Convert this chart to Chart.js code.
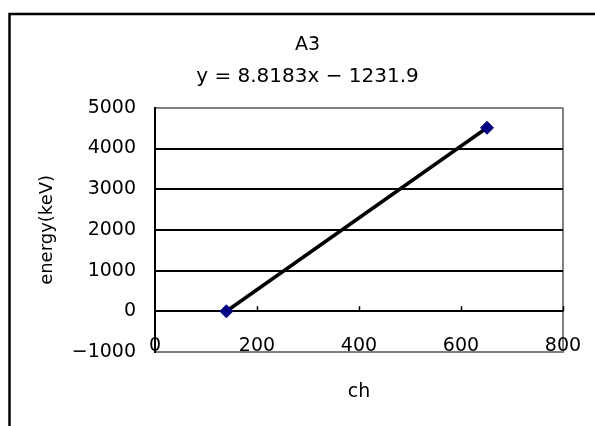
<!DOCTYPE html>
<html>
<head>
<meta charset="utf-8">
<script src="https://cdn.jsdelivr.net/npm/chart.js@4/dist/chart.umd.min.js"></script>
<style>
  html, body { margin: 0; padding: 0; background: #ffffff; }
  #wrap { width: 595px; height: 426px; position: relative; }
</style>
</head>
<body>
<div id="wrap"><canvas id="c" width="595" height="426"></canvas></div>
<script>
// ---- data ----
const chartTitle = "A3";
const equationText = "y = 8.8183x \u2212 1231.9";
const xTitle = "ch";
const yTitle = "energy(keV)";
const channels = [140, 651];
const energies = [0, 4509];
const xTicks = [0, 200, 400, 600, 800];
const yTicks = [-1000, 0, 1000, 2000, 3000, 4000, 5000];

const FONT = "'DejaVu Sans', sans-serif";
const GRAY = "#808080";

const points = channels.map((x, i) => ({ x: x, y: energies[i] }));

const fmt = v => (v < 0 ? "\u2212" + Math.abs(v) : String(v));

const decorPlugin = {
  id: "decor",
  beforeDraw(chart) {
    const ctx = chart.ctx;
    ctx.save();
    ctx.fillStyle = "#ffffff";
    ctx.fillRect(0, 0, chart.width, chart.height);
    ctx.strokeStyle = "#000000";
    ctx.lineWidth = 2.5;
    ctx.beginPath();
    ctx.moveTo(9.5, chart.height + 5);
    ctx.lineTo(9.5, 14);
    ctx.lineTo(chart.width + 5, 14);
    ctx.stroke();
    ctx.restore();
  },
  beforeDatasetsDraw(chart) {
    // small upward tick marks on the y = 0 line
    const ctx = chart.ctx;
    const xs = chart.scales.x, ys = chart.scales.y;
    const y0 = ys.getPixelForValue(0);
    ctx.save();
    ctx.strokeStyle = "#000000";
    ctx.lineWidth = 1.5;
    ctx.beginPath();
    xTicks.slice(1).forEach(v => {
      const px = Math.round(xs.getPixelForValue(v)) + 0.5;
      ctx.moveTo(px, y0);
      ctx.lineTo(px, y0 - 5);
    });
    ctx.stroke();
    ctx.restore();
  }
};

new Chart(document.getElementById("c"), {
  type: "scatter",
  data: {
    datasets: [{
      label: "A3",
      data: points,
      showLine: true,
      borderColor: "#000000",
      borderWidth: 3.5,
      pointStyle: "rectRot",
      pointRadius: 6.5,
      pointBackgroundColor: "#000080",
      pointBorderColor: "#000080",
      pointBorderWidth: 1,
      clip: false
    }]
  },
  options: {
    responsive: false,
    animation: false,
    devicePixelRatio: 1,
    layout: { padding: { left: 52, right: 32, top: 21, bottom: 0 } },
    plugins: {
      legend: { display: false },
      tooltip: { enabled: false },
      title: {
        display: true,
        text: chartTitle,
        color: "#000000",
        font: { family: FONT, size: 19, weight: "normal" },
        padding: { top: 13, bottom: 6 }
      },
      subtitle: {
        display: true,
        text: equationText,
        color: "#000000",
        font: { family: FONT, size: 20, weight: "normal" },
        padding: { top: 2, bottom: 19 }
      }
    },
    scales: {
      x: {
        type: "linear",
        position: "bottom",
        min: 0, max: 800,
        afterBuildTicks: s => { s.ticks = xTicks.map(v => ({ value: v })); },
        afterFit: s => { s.height = 74; },
        ticks: {
          color: "#000000",
          font: { family: FONT, size: 19 },
          mirror: true,
          padding: -5,
          maxRotation: 0,
          autoSkip: false,
          callback: v => fmt(v)
        },
        grid: {
          drawTicks: false,
          drawOnChartArea: true,
          color: c => (c.tick && c.tick.value === 800 ? GRAY : "rgba(0,0,0,0)"),
          lineWidth: 2
        },
        border: { display: true, color: GRAY, width: 2 },
        title: {
          display: true,
          text: xTitle,
          color: "#000000",
          font: { family: FONT, size: 19 },
          padding: { top: 0, bottom: 22.6 }
        }
      },
      y: {
        type: "linear",
        position: "left",
        min: -1000, max: 5000,
        afterBuildTicks: s => { s.ticks = yTicks.map(v => ({ value: v })); },
        afterFit: s => { s.width = 103; },
        ticks: {
          color: "#000000",
          font: { family: FONT, size: 19 },
          padding: 19,
          callback: v => fmt(v)
        },
        grid: {
          drawTicks: false,
          color: c => (c.tick && (c.tick.value === 5000 || c.tick.value === -1000) ? GRAY : "#000000"),
          lineWidth: 2
        },
        border: { display: true, color: "#000000", width: 2 },
        title: {
          display: true,
          text: yTitle,
          color: "#000000",
          font: { family: FONT, size: 18 },
          padding: { top: -15, bottom: 0 }
        }
      }
    }
  },
  plugins: [decorPlugin]
});
</script>
</body>
</html>
